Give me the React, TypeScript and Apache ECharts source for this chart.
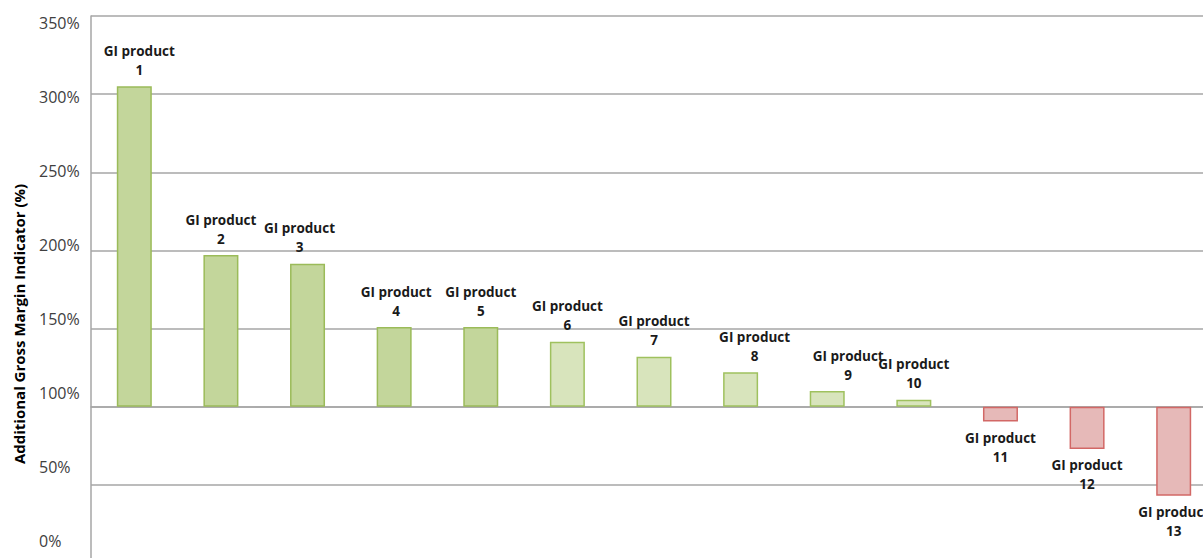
import React, { useEffect, useRef } from "react";
import * as echarts from "echarts";

const categories = [
  "GI product 1", "GI product 2", "GI product 3", "GI product 4", "GI product 5",
  "GI product 6", "GI product 7", "GI product 8", "GI product 9", "GI product 10",
  "GI product 11", "GI product 12", "GI product 13",
];
// Additional Gross Margin Indicator (%), bars drawn from the 100% baseline
const values = [305, 197, 191.5, 151, 151, 141.5, 132, 122, 110, 104.5, 90.5, 73, 43];
const tiers = ["high", "high", "high", "high", "high", "mid", "mid", "mid", "mid", "mid", "low", "low", "low"];
const baseline = 100;
const yTickMin = 0;
const yTickMax = 350;
const yTickStep = 50;

const tierStyle: Record<string, { fill: string; stroke: string }> = {
  high: { fill: "#c3d69b", stroke: "#9bbb59" },
  mid: { fill: "#d8e4bc", stroke: "#9fc15e" },
  low: { fill: "#e6b9b8", stroke: "#d26866" },
};
const labelShift = [5, 0, -8, 2, 0, 0, 0, 14, 21, 0, 0, 0, 0];

export default function App() {
  const ref = useRef<HTMLDivElement>(null);
  useEffect(() => {
    if (!ref.current) return;
    const chart = echarts.init(ref.current, null, { renderer: "svg" });
    const data = values.map((v, i) => {
      const st = tierStyle[tiers[i]];
      const neg = v < baseline;
      return {
        value: v - baseline,
        itemStyle: { color: st.fill, borderColor: st.stroke, borderWidth: 1.5 },
        label: {
          position: neg ? "bottom" : "top",
          offset: [labelShift[i], 0],
        },
      };
    });
    chart.setOption({
      animation: false,
      grid: [
        { left: 91, top: 16, width: 1126, height: 547, outerBoundsMode: "none" },
        { left: 91, top: 23, width: 1126, height: 518, outerBoundsMode: "none" },
      ],
      xAxis: [
        {
          type: "category",
          gridIndex: 0,
          data: categories,
          axisLine: { show: true, onZero: true, lineStyle: { color: "#a6a6a6", width: 1.5 } },
          axisTick: { show: false },
          axisLabel: { show: false },
        },
        { type: "category", gridIndex: 1, data: categories, show: false },
      ],
      yAxis: [
        {
          type: "value",
          gridIndex: 0,
          min: yTickMin - baseline,
          max: yTickMax - baseline,
          interval: yTickStep,
          axisLine: { show: true, lineStyle: { color: "#a6a6a6", width: 1.5 } },
          axisTick: { show: false },
          splitLine: { show: true, lineStyle: { color: "#a6a6a6", width: 1.5 } },
          axisLabel: { show: false },
        },
        {
          type: "value",
          gridIndex: 1,
          min: yTickMin,
          max: yTickMax,
          interval: yTickStep,
          axisLine: { show: false },
          axisTick: { show: false },
          splitLine: { show: false },
          axisLabel: {
            formatter: (v: number) => `${v}%`,
            fontFamily: "Open Sans",
            fontSize: 16,
            color: "#404040",
            align: "left",
            margin: 52,
          },
        },
      ],
      graphic: [
        {
          type: "text",
          x: 19,
          y: 324,
          rotation: Math.PI / 2,
          style: {
            text: "Additional Gross Margin Indicator (%)",
            font: 'bold 15px "Open Sans"',
            fill: "#000",
            align: "center",
            verticalAlign: "middle",
          },
        },
      ],
      series: [
        {
          type: "bar",
          xAxisIndex: 0,
          yAxisIndex: 0,
          data,
          barWidth: 35,
          label: {
            show: true,
            formatter: (p: any) => {
              const name: string = p.name;
              const k = name.lastIndexOf(" ");
              return name.slice(0, k) + "\n" + name.slice(k + 1);
            },
            fontFamily: "Open Sans",
            fontWeight: "bold",
            fontSize: 13.5,
            lineHeight: 19,
            color: "#1a1a1a",
            distance: 7,
          },
        },
      ],
    });
    return () => chart.dispose();
  }, []);
  return (
    <div
      ref={ref}
      style={{ position: "fixed", left: 0, top: 0, width: 1203, height: 558, background: "#fff" }}
    />
  );
}
